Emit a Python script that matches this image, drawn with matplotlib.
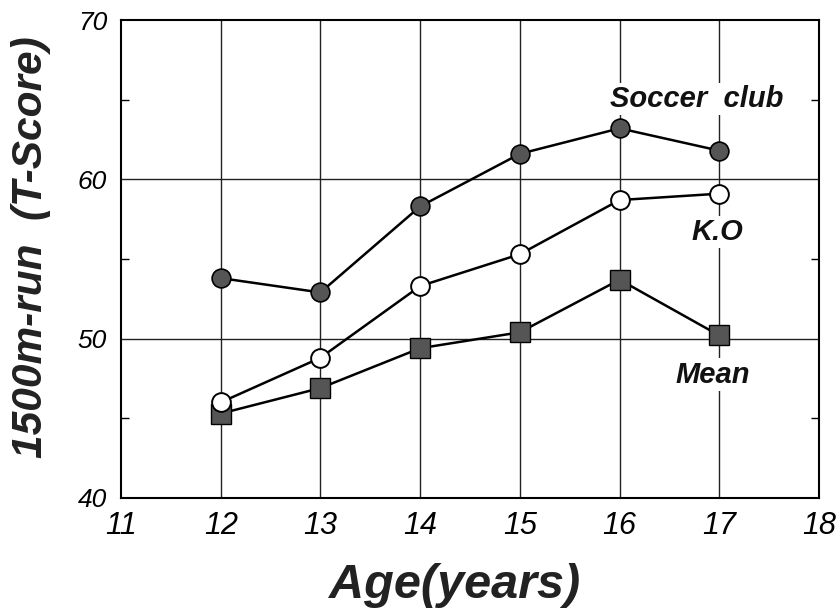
import matplotlib
matplotlib.use("Agg")
import matplotlib.pyplot as plt
from matplotlib.ticker import FixedLocator

ages = [12, 13, 14, 15, 16, 17]
soccer_club = [53.8, 52.9, 58.3, 61.6, 63.2, 61.8]
ko = [46.0, 48.8, 53.3, 55.3, 58.7, 59.1]
mean = [45.3, 46.9, 49.4, 50.4, 53.7, 50.2]
x_ticks = [11, 12, 13, 14, 15, 16, 17, 18]
x_tick_labels = ["11", "12", "13", "14", "15", "16", "17", "18"]
y_ticks = [40, 50, 60, 70]

plt.rcParams['font.family'] = ['Liberation Sans', 'DejaVu Sans']

fig = plt.figure(figsize=(8.36, 6.09), dpi=100)
ax = fig.add_axes([121/836, 1 - 498/609, (819 - 121)/836, (498 - 20)/609])

ax.set_xlim(11, 18)
ax.set_ylim(40, 70)

# grid
for xv in ages:
    ax.axvline(xv, color='#222222', lw=1.0, zorder=1)
for yv in [50, 60]:
    ax.axhline(yv, color='#222222', lw=1.0, zorder=1)

ax.plot(ages, soccer_club, '-o', color='black', lw=1.8, ms=13.5,
        mfc='#555555', mec='black', mew=1.2, zorder=4)
ax.plot(ages, ko, '-o', color='black', lw=1.8, ms=13.5,
        mfc='white', mec='black', mew=1.4, zorder=4)
ax.plot(ages, mean, '-s', color='black', lw=1.8, ms=14.5,
        mfc='#555555', mec='black', mew=1.0, zorder=3)

lab_kw = dict(fontsize=21, fontweight='bold', fontstyle='italic', ha='center', va='center',
              zorder=5, color='#111111', bbox=dict(facecolor='white', edgecolor='none', pad=1.5))
ax.text(16.77, 65.05, "Soccer  club", **lab_kw)
ax.text(16.98, 56.7, "K.O", **lab_kw)
ax.text(16.93, 47.75, "Mean", **lab_kw)

ax.xaxis.set_major_locator(FixedLocator(x_ticks))
ax.set_xticklabels(x_tick_labels, fontsize=22, fontstyle='italic')
ax.yaxis.set_major_locator(FixedLocator(y_ticks))
ax.set_yticklabels([str(v) for v in y_ticks], fontsize=19, fontstyle='italic')
ax.yaxis.set_minor_locator(FixedLocator([45, 55, 65]))
ax.tick_params(axis='x', which='major', length=0, pad=9)
ax.tick_params(axis='y', which='major', length=0, pad=10)
ax.tick_params(axis='y', which='minor', direction='in', length=6, width=1, left=True, right=True)

for s in ax.spines.values():
    s.set_linewidth(1.5)
    s.set_color('black')

fig.text(31/836, 1 - 247/609, "1500m-run  (T-Score)", fontsize=30.5, fontweight='bold',
         fontstyle='italic', rotation=90, ha='center', va='center', color='#222222')
fig.text(455/836, 1 - 585/609, "Age(years)", fontsize=35, fontweight='bold', fontstyle='italic',
         ha='center', va='center', color='#222222')

fig.savefig("out.png", dpi=100)
